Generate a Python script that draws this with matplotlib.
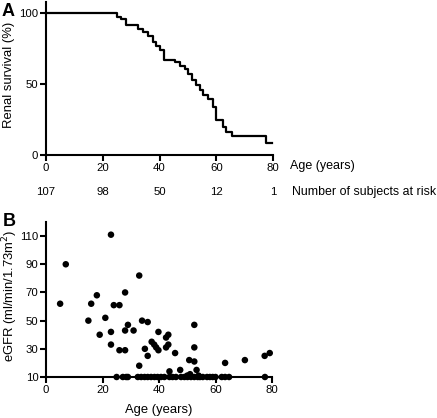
import matplotlib
matplotlib.use("Agg")
import matplotlib.pyplot as plt
from matplotlib.transforms import blended_transform_factory

plt.rcParams['font.family'] = ['Liberation Sans', 'DejaVu Sans']
plt.rcParams['font.size'] = 8.2

# ---------------------------
# Panel A: Kaplan-Meier renal survival
# ---------------------------
surv_age = [0, 25, 26.6, 28.2, 32.5, 34.3, 36, 37.8, 38.7, 40, 41.7, 45.4, 47.2, 49,
            50, 51.6, 53, 54.2, 55.4, 57, 58.7, 59.9, 62.4, 63.6, 65.4, 77.7, 79.5]
surv_pct = [100, 97.6, 96, 92, 89, 87, 84, 80, 77, 74, 67, 65.5, 63, 61,
            57.4, 53, 49.6, 46, 42.5, 39.5, 34, 25, 20, 16.5, 13.5, 8.3, 8.3]

risk_ages = [0, 20, 40, 60, 80]
risk_counts = ["107", "98", "50", "12", "1"]

# ---------------------------
# Panel B: eGFR vs age
# ---------------------------
egfr_age = [5, 7, 15, 16, 18, 19, 21, 23, 23, 23, 24, 26, 26, 28, 28, 28, 29, 31,
            33, 33, 34, 35, 36, 36, 37.4, 38.3, 39, 39.8, 39.8, 42.5, 42.5, 43.3, 43.3,
            43.7, 45.7, 47.5, 50.7, 52.5, 52.5, 52.5, 53.3, 51, 50, 54, 63.4, 70.4, 77.4, 79.2,
            25, 27.2, 28.4, 29, 32.5, 33.7, 34.9, 36, 37.2, 38.4, 39.5, 40.7, 41.9, 43.7,
            44.8, 46, 47.8, 49, 50.1, 51.3, 52.5, 53.7, 54.5, 55.5, 57, 58, 59, 60,
            62.2, 63.4, 64.8, 77.5]
egfr_val = [62, 90, 50, 62, 68, 40, 52, 111, 42, 33, 61, 61, 29, 70, 43, 29, 47, 43,
            18, 82, 50, 30, 49, 25, 35, 33, 31, 42, 29, 38, 31, 40, 33,
            14, 27, 15, 22, 47, 31, 21, 15, 12, 11, 11, 20, 22, 25, 27,
            10, 10, 10, 10, 10, 10, 10, 10, 10, 10, 10, 10, 10, 10,
            10, 10, 10, 10, 10, 10, 10, 10, 10, 10, 10, 10, 10, 10,
            10, 10, 10, 10]

fig = plt.figure(figsize=(4.37, 4.18), dpi=100)
W, H = 437.0, 418.0
LABEL_FS = 9.4


def fy(y):
    # pixel row from the top -> figure fraction
    return (H - y) / H


def style_axes(ax):
    for side in ['top', 'right']:
        ax.spines[side].set_visible(False)
    for side in ['left', 'bottom']:
        ax.spines[side].set_linewidth(1.5)
    ax.tick_params(direction='out', width=1.5, length=4, labelsize=8.2, pad=1.5)


# Panel A
axA = fig.add_axes([46 / W, fy(155), 227 / W, 153 / H])
axA.step(surv_age, surv_pct, where='post', color='black', lw=1.6, clip_on=False)
axA.set_xlim(0, 80)
axA.set_ylim(0, 108)
axA.set_xticks([0, 20, 40, 60, 80])
axA.set_yticks([0, 50, 100])
style_axes(axA)
fig.text(9 / W, fy(75), "Renal survival (%)", rotation=90, ha='center', va='center',
         fontsize=LABEL_FS)
fig.text(290 / W, fy(166), "Age (years)", ha='left', va='center', fontsize=9)
risk_tr = blended_transform_factory(axA.transData, fig.transFigure)
for a, c in zip(risk_ages, risk_counts):
    axA.text(a, fy(192), c, transform=risk_tr, ha='center', va='center', fontsize=8.2)
fig.text(292 / W, fy(192), "Number of subjects at risk", ha='left', va='center',
         fontsize=8.9)
fig.text(2 / W, fy(12), "A", fontsize=13, fontweight='bold', ha='left', va='center')

# Panel B
axB = fig.add_axes([46 / W, fy(377), 226 / W, 155 / H])
axB.scatter(egfr_age, egfr_val, s=22, color='black', edgecolors='none', clip_on=False, zorder=3)
axB.set_xlim(0, 80)
axB.set_ylim(10, 120)
axB.set_xticks([0, 20, 40, 60, 80])
axB.set_yticks([10, 30, 50, 70, 90, 110])
style_axes(axB)
fig.text(159 / W, fy(410), "Age (years)", ha='center', va='center', fontsize=LABEL_FS)
fig.text(10 / W, fy(296), "eGFR (ml/min/1.73m$^2$)", rotation=90, ha='center', va='center',
         fontsize=LABEL_FS)
fig.text(3 / W, fy(221), "B", fontsize=13, fontweight='bold', ha='left', va='center')

fig.savefig("out.png", dpi=100)
